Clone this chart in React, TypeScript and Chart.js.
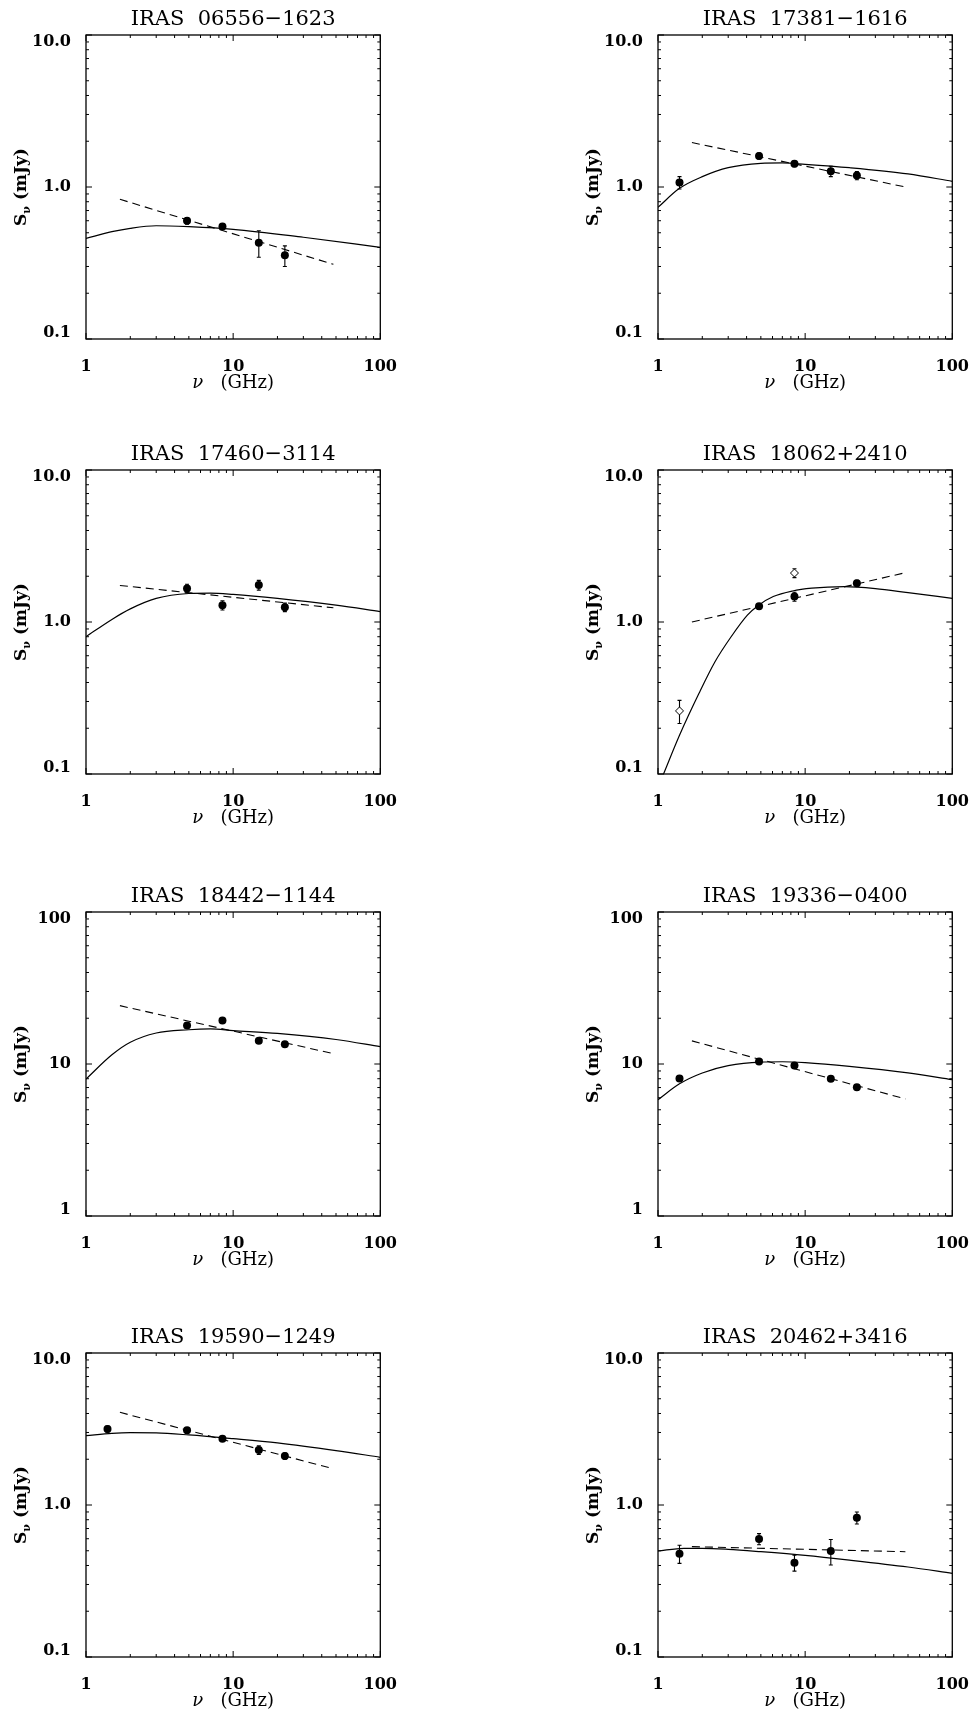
import React, { useEffect, useRef } from 'react';
import { Chart, registerables } from 'chart.js';

Chart.register(...registerables);

const SERIF = '"DejaVu Serif", serif';

// ---- axes ----
const xTickValues = [1, 10, 100];
const xTickLabels = ['1', '10', '100'];
const yTickValuesLow = [0.1, 1, 10];
const yTickLabelsLow = ['0.1', '1.0', '10.0'];
const yTickValuesHigh = [1, 10, 100];
const yTickLabelsHigh = ['1', '10', '100'];
const minorMultipliers = [2, 3, 4, 5, 6, 7, 8, 9];

// ---- observing frequencies (GHz) ----
const nuAll = [1.4, 4.86, 8.46, 14.94, 22.46];
const nuHigh = [4.86, 8.46, 14.94, 22.46];

// ---- titles ----
const titles = [
  'IRAS  06556\u22121623',
  'IRAS  17381\u22121616',
  'IRAS  17460\u22123114',
  'IRAS  18062+2410',
  'IRAS  18442\u22121144',
  'IRAS  19336\u22120400',
  'IRAS  19590\u22121249',
  'IRAS  20462+3416',
];

// ---- panel 1: IRAS 06556-1623 ----
const p1Nu = nuHigh;
const p1Flux = [0.6, 0.55, 0.43, 0.355];
const p1Err = [0.03, 0.025, 0.085, 0.055];
const p1ModelNu = [1, 1.5, 2, 3, 5, 10, 30, 100];
const p1ModelFlux = [0.459, 0.508, 0.535, 0.556, 0.548, 0.527, 0.467, 0.401];
const p1FitNu = [1.7, 48];
const p1FitFlux = [0.83, 0.31];

// ---- panel 2: IRAS 17381-1616 ----
const p2Nu = nuAll;
const p2Flux = [1.07, 1.6, 1.42, 1.27, 1.19];
const p2Err = [0.1, 0.07, 0.06, 0.1, 0.075];
const p2ModelNu = [1, 1.4, 2, 3, 5, 7, 10, 20, 50, 100];
const p2ModelFlux = [0.735, 0.98, 1.17, 1.34, 1.43, 1.44, 1.41, 1.34, 1.22, 1.09];
const p2FitNu = [1.7, 48];
const p2FitFlux = [1.96, 1.0];

// ---- panel 3: IRAS 17460-3114 ----
const p3Nu = nuHigh;
const p3Flux = [1.66, 1.29, 1.75, 1.25];
const p3Err = [0.11, 0.09, 0.13, 0.08];
const p3ModelNu = [1, 1.5, 2, 3, 5, 7, 10, 20, 50, 100];
const p3ModelFlux = [0.8, 1.04, 1.22, 1.43, 1.54, 1.55, 1.52, 1.43, 1.29, 1.17];
const p3FitNu = [1.7, 48];
const p3FitFlux = [1.74, 1.24];

// ---- panel 4: IRAS 18062+2410 ----
const p4Nu = [4.86, 8.46, 22.46];
const p4Flux = [1.27, 1.47, 1.8];
const p4Err = [0.05, 0.1, 0.08];
const p4OpenNu = [1.4, 8.46];
const p4OpenFlux = [0.26, 2.1];
const p4OpenErr = [0.045, 0.14];
const p4ModelNu = [1.09, 1.4, 1.9, 2.44, 3.14, 4.05, 4.83, 6.07, 8.2, 11.1, 18.4, 30, 50, 100];
const p4ModelFlux = [0.1, 0.18, 0.34, 0.548, 0.8, 1.11, 1.29, 1.47, 1.6, 1.67, 1.71, 1.66, 1.56, 1.43];
const p4FitNu = [1.7, 48];
const p4FitFlux = [1.0, 2.11];

// ---- panel 5: IRAS 18442-1144 ----
const p5Nu = nuHigh;
const p5Flux = [17.9, 19.3, 14.2, 13.5];
const p5Err = [0.5, 0.5, 0.5, 0.5];
const p5ModelNu = [1, 1.5, 2, 3, 5, 7, 10, 20, 50, 100];
const p5ModelFlux = [7.96, 11.5, 13.9, 16.0, 16.8, 17.0, 16.6, 15.9, 14.5, 13.0];
const p5FitNu = [1.7, 48];
const p5FitFlux = [24.2, 11.7];

// ---- panel 6: IRAS 19336-0400 ----
const p6Nu = nuAll;
const p6Flux = [8.04, 10.4, 9.79, 8.0, 7.02];
const p6Err = [0.3, 0.3, 0.3, 0.3, 0.3];
const p6ModelNu = [1, 1.4, 2, 3, 5, 7, 10, 20, 50, 100];
const p6ModelFlux = [5.82, 7.41, 8.73, 9.75, 10.3, 10.35, 10.2, 9.64, 8.73, 7.88];
const p6FitNu = [1.7, 48];
const p6FitFlux = [14.2, 5.89];

// ---- panel 7: IRAS 19590-1249 ----
const p7Nu = nuAll;
const p7Flux = [3.16, 3.1, 2.73, 2.3, 2.1];
const p7Err = [0.15, 0.12, 0.1, 0.15, 0.1];
const p7ModelNu = [1, 1.5, 2, 3, 5, 10, 20, 50, 100];
const p7ModelFlux = [2.86, 2.96, 2.99, 2.98, 2.89, 2.73, 2.56, 2.28, 2.06];
const p7FitNu = [1.7, 48];
const p7FitFlux = [4.07, 1.73];

// ---- panel 8: IRAS 20462+3416 ----
const p8Nu = nuAll;
const p8Flux = [0.478, 0.598, 0.417, 0.498, 0.825];
const p8Err = [0.065, 0.05, 0.05, 0.095, 0.075];
const p8ModelNu = [1, 1.5, 2, 3, 5, 10, 20, 50, 100];
const p8ModelFlux = [0.498, 0.519, 0.519, 0.511, 0.493, 0.466, 0.434, 0.391, 0.355];
const p8FitNu = [1.7, 48];
const p8FitFlux = [0.532, 0.493];

type Series = { nu: number[]; flux: number[]; err?: number[] };
type PanelSpec = {
  title: string;
  high: boolean;
  obs: Series;
  open?: Series;
  model: Series;
  fit: Series;
};

const panels: PanelSpec[] = [
  { title: titles[0], high: false, obs: { nu: p1Nu, flux: p1Flux, err: p1Err }, model: { nu: p1ModelNu, flux: p1ModelFlux }, fit: { nu: p1FitNu, flux: p1FitFlux } },
  { title: titles[1], high: false, obs: { nu: p2Nu, flux: p2Flux, err: p2Err }, model: { nu: p2ModelNu, flux: p2ModelFlux }, fit: { nu: p2FitNu, flux: p2FitFlux } },
  { title: titles[2], high: false, obs: { nu: p3Nu, flux: p3Flux, err: p3Err }, model: { nu: p3ModelNu, flux: p3ModelFlux }, fit: { nu: p3FitNu, flux: p3FitFlux } },
  { title: titles[3], high: false, obs: { nu: p4Nu, flux: p4Flux, err: p4Err }, open: { nu: p4OpenNu, flux: p4OpenFlux, err: p4OpenErr }, model: { nu: p4ModelNu, flux: p4ModelFlux }, fit: { nu: p4FitNu, flux: p4FitFlux } },
  { title: titles[4], high: true, obs: { nu: p5Nu, flux: p5Flux, err: p5Err }, model: { nu: p5ModelNu, flux: p5ModelFlux }, fit: { nu: p5FitNu, flux: p5FitFlux } },
  { title: titles[5], high: true, obs: { nu: p6Nu, flux: p6Flux, err: p6Err }, model: { nu: p6ModelNu, flux: p6ModelFlux }, fit: { nu: p6FitNu, flux: p6FitFlux } },
  { title: titles[6], high: false, obs: { nu: p7Nu, flux: p7Flux, err: p7Err }, model: { nu: p7ModelNu, flux: p7ModelFlux }, fit: { nu: p7FitNu, flux: p7FitFlux } },
  { title: titles[7], high: false, obs: { nu: p8Nu, flux: p8Flux, err: p8Err }, model: { nu: p8ModelNu, flux: p8ModelFlux }, fit: { nu: p8FitNu, flux: p8FitFlux } },
];

// ---- layout ----
const CANVAS_W = 407;
const PAD_TOP = 35;
const PLOT = 304;
const Y_AXIS_W = 86;
const X_AXIS_H = 58;
const CANVAS_H = PAD_TOP + PLOT + X_AXIS_H;
const colLeft = [0, 572];
const rowTop = [0, 435, 877, 1318];

const isDecade = (v: number) => Math.abs(Math.log10(v) - Math.round(Math.log10(v))) < 1e-6;
const tickPositions = (decades: number[]) => {
  const out: number[] = [];
  decades.forEach((d, i) => {
    out.push(d);
    if (i < decades.length - 1) minorMultipliers.forEach((m) => out.push(d * m));
  });
  return out;
};
const labelFor = (v: number, vals: number[], labels: string[]) => {
  const i = vals.findIndex((t) => Math.abs(t - v) / t < 1e-6);
  return i >= 0 ? labels[i] : '';
};
const pts = (s: Series) => s.nu.map((n, i) => ({ x: n, y: s.flux[i] }));

const frameTicks = {
  id: 'frameTicks',
  afterDatasetsDraw(chart: any) {
    const { ctx, chartArea: a, scales } = chart;
    const x = scales.x;
    const y = scales.y;
    ctx.save();
    ctx.strokeStyle = '#000';
    ctx.lineWidth = 1.3;
    ctx.strokeRect(a.left, a.top, a.right - a.left, a.bottom - a.top);
    ctx.lineWidth = 1;
    ctx.beginPath();
    for (const t of x.ticks) {
      const px = x.getPixelForValue(t.value);
      const len = isDecade(t.value) ? 6 : 3;
      ctx.moveTo(px, a.bottom);
      ctx.lineTo(px, a.bottom - len);
      ctx.moveTo(px, a.top);
      ctx.lineTo(px, a.top + len);
    }
    for (const t of y.ticks) {
      const py = y.getPixelForValue(t.value);
      const len = isDecade(t.value) ? 6 : 3;
      ctx.moveTo(a.left, py);
      ctx.lineTo(a.left + len, py);
      ctx.moveTo(a.right, py);
      ctx.lineTo(a.right - len, py);
    }
    ctx.stroke();
    ctx.restore();
  },
};

const errorBars = {
  id: 'errorBars',
  beforeDatasetsDraw(chart: any) {
    const { ctx, scales } = chart;
    const x = scales.x;
    const y = scales.y;
    ctx.save();
    ctx.strokeStyle = '#000';
    ctx.lineWidth = 1.1;
    ctx.beginPath();
    chart.data.datasets.forEach((ds: any) => {
      if (!ds.errors) return;
      ds.data.forEach((p: any, i: number) => {
        const e = ds.errors[i];
        const px = x.getPixelForValue(p.x);
        const y1 = y.getPixelForValue(p.y + e);
        const y2 = y.getPixelForValue(p.y - e);
        ctx.moveTo(px, y1);
        ctx.lineTo(px, y2);
        ctx.moveTo(px - 2, y1);
        ctx.lineTo(px + 2, y1);
        ctx.moveTo(px - 2, y2);
        ctx.lineTo(px + 2, y2);
      });
    });
    ctx.stroke();
    ctx.restore();
  },
};

const decor = {
  id: 'decor',
  afterDraw(chart: any) {
    const { ctx, chartArea: a } = chart;
    const title = chart.options.plugins.decor.title;
    const cx = (a.left + a.right) / 2;
    const cy = (a.top + a.bottom) / 2;
    ctx.save();
    ctx.fillStyle = '#000';
    // title
    ctx.font = `21px ${SERIF}`;
    ctx.textAlign = 'center';
    ctx.textBaseline = 'alphabetic';
    ctx.fillText(title, cx, a.top - 10);
    // x axis title: "ν   (GHz)"
    ctx.textAlign = 'left';
    const fNu = `italic 18px ${SERIF}`;
    const fX = `18px ${SERIF}`;
    ctx.font = fNu;
    const wNu = ctx.measureText('\u03bd').width;
    ctx.font = fX;
    const wRest = ctx.measureText('   (GHz)').width;
    const xx = cx - (wNu + wRest) / 2;
    const by = a.bottom + 49;
    ctx.font = fNu;
    ctx.fillText('\u03bd', xx, by);
    ctx.font = fX;
    ctx.fillText('   (GHz)', xx + wNu, by);
    // y axis title: "Sν (mJy)"
    ctx.translate(a.left - 66, cy);
    ctx.rotate(-Math.PI / 2);
    const fS = `bold 17px ${SERIF}`;
    const fSub = `bold 11px ${SERIF}`;
    ctx.font = fS;
    const wS = ctx.measureText('S').width;
    const wR = ctx.measureText(' (mJy)').width;
    ctx.font = fSub;
    const wSub = ctx.measureText('\u03bd').width;
    let tx = -(wS + wSub + wR) / 2;
    ctx.font = fS;
    ctx.fillText('S', tx, 6);
    tx += wS;
    ctx.font = fSub;
    ctx.fillText('\u03bd', tx, 10);
    tx += wSub;
    ctx.font = fS;
    ctx.fillText(' (mJy)', tx, 6);
    ctx.restore();
  },
};

function Panel({ spec, left, top }: { spec: PanelSpec; left: number; top: number }) {
  const ref = useRef<HTMLCanvasElement>(null);
  useEffect(() => {
    const yVals = spec.high ? yTickValuesHigh : yTickValuesLow;
    const yLabels = spec.high ? yTickLabelsHigh : yTickLabelsLow;
    const yMin = yVals[0];
    const yMax = yVals[yVals.length - 1];
    const datasets: any[] = [
      {
        label: 'model',
        data: pts(spec.model),
        showLine: true,
        borderColor: '#000',
        borderWidth: 1.2,
        pointRadius: 0,
        cubicInterpolationMode: 'monotone',
        fill: false,
      },
      {
        label: 'fit',
        data: pts(spec.fit),
        showLine: true,
        borderColor: '#000',
        borderWidth: 1.1,
        borderDash: [8, 5],
        pointRadius: 0,
        fill: false,
      },
      {
        label: 'obs',
        data: pts(spec.obs),
        errors: spec.obs.err,
        showLine: false,
        pointStyle: 'circle',
        pointRadius: 4,
        backgroundColor: '#000',
        borderColor: '#000',
        borderWidth: 0,
      },
    ];
    if (spec.open) {
      datasets.push({
        label: 'open',
        data: pts(spec.open),
        errors: spec.open.err,
        showLine: false,
        pointStyle: 'rectRot',
        pointRadius: 4,
        backgroundColor: '#fff',
        borderColor: '#000',
        borderWidth: 1,
      });
    }
    const chart = new Chart(ref.current as HTMLCanvasElement, {
      type: 'line',
      data: { datasets },
      options: {
        animation: false,
        responsive: false,
        events: [],
        layout: { padding: { left: 0, top: PAD_TOP, right: CANVAS_W - Y_AXIS_W - PLOT, bottom: 0 } },
        plugins: {
          legend: { display: false },
          tooltip: { enabled: false },
          decor: { title: spec.title },
        } as any,
        scales: {
          x: {
            type: 'logarithmic',
            min: xTickValues[0],
            max: xTickValues[xTickValues.length - 1],
            grid: { display: false },
            border: { display: false },
            afterBuildTicks: (s: any) => {
              s.ticks = tickPositions(xTickValues).map((v) => ({ value: v }));
            },
            afterFit: (s: any) => {
              s.height = X_AXIS_H;
            },
            ticks: {
              autoSkip: false,
              maxRotation: 0,
              padding: 10,
              color: '#000',
              font: { family: SERIF, size: 16, weight: 'bold' },
              callback: (v: any) => labelFor(Number(v), xTickValues, xTickLabels),
            },
          },
          y: {
            type: 'logarithmic',
            min: yMin,
            max: yMax,
            grid: { display: false },
            border: { display: false },
            afterBuildTicks: (s: any) => {
              s.ticks = tickPositions(yVals).map((v) => ({ value: v }));
            },
            afterFit: (s: any) => {
              s.width = Y_AXIS_W;
            },
            ticks: {
              autoSkip: false,
              padding: 7,
              color: '#000',
              font: { family: SERIF, size: 16, weight: 'bold', lineHeight: 0.82 },
              callback: (v: any) => {
                const n = Number(v);
                const lab = labelFor(n, yVals, yLabels);
                if (Math.abs(n - yMax) / yMax < 1e-6) return ['', lab];
                if (Math.abs(n - yMin) / yMin < 1e-6) return [lab, ''];
                return lab;
              },
            },
          },
        },
      } as any,
      plugins: [errorBars, frameTicks, decor],
    });
    return () => chart.destroy();
  }, [spec]);
  return (
    <canvas
      ref={ref}
      width={CANVAS_W}
      height={CANVAS_H}
      style={{ position: 'absolute', left, top, width: CANVAS_W, height: CANVAS_H }}
    />
  );
}

export default function App() {
  return (
    <div
      style={{
        position: 'absolute',
        left: 0,
        top: 0,
        width: 979,
        height: 1712,
        background: '#fff',
        overflow: 'hidden',
      }}
    >
      {panels.map((p, i) => (
        <Panel key={i} spec={p} left={colLeft[i % 2]} top={rowTop[Math.floor(i / 2)]} />
      ))}
    </div>
  );
}
